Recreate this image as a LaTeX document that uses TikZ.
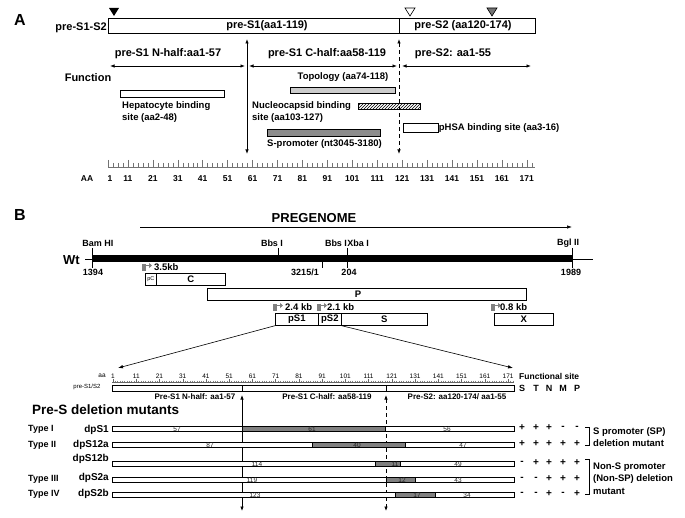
\documentclass[tikz,border=0pt]{standalone}
\usepackage{fontspec}
\setmainfont{Liberation Sans}
\usepackage{tikz}
\usetikzlibrary{arrows.meta, patterns}

\tikzset{
  promo/.pic={
    \fill[black!50] (0,0.5) rectangle (4,7.5);
    \draw[black!50, line width=1.6pt, -{Triangle[length=3pt, width=5pt]}] (2,1.5) -- (10,1.5);
  }
}

\begin{document}
\begin{tikzpicture}[x=1pt, y=-1pt,
  panel/.style={font=\bfseries\fontsize{16}{16}\selectfont, inner sep=0pt},
  head/.style={font=\bfseries\fontsize{11}{13}\selectfont, inner sep=0pt},
  note/.style={font=\bfseries\fontsize{9.5}{12}\selectfont, inner sep=0pt, align=left},
  scalelbl/.style={font=\bfseries\fontsize{8.5}{9}\selectfont, inner sep=0pt},
  site/.style={font=\bfseries\fontsize{9}{10}\selectfont, inner sep=0pt},
  seg/.style={draw, line width=0.7pt, inner sep=0pt, anchor=north west},
  gbox/.style={draw, line width=0.7pt, inner sep=0pt, anchor=north west, font=\bfseries\fontsize{9.5}{10}\selectfont},
  dbl/.style={{Latex[length=4.5pt, width=3.5pt]}-{Latex[length=4.5pt, width=3.5pt]}, line width=0.8pt},
  zarrow/.style={-{Latex[length=5pt, width=3.5pt]}, line width=0.6pt},
  small/.style={font=\bfseries\fontsize{8}{9}\selectfont, inner sep=0pt},
  num/.style={font=\fontsize{6.5}{6.5}\selectfont, inner sep=0pt, text=black!85},
  rowlbl/.style={font=\bfseries\fontsize{10}{11}\selectfont, inner sep=0pt, anchor=base east},
  typelbl/.style={font=\bfseries\fontsize{9}{10}\selectfont, inner sep=0pt, anchor=base west},
  sign/.style={font=\bfseries\fontsize{10}{10}\selectfont, inner sep=0pt},
  bnote/.style={font=\bfseries\fontsize{9.5}{12.5}\selectfont, inner sep=0pt, align=left, anchor=west}
]
\useasboundingbox (0,0) rectangle (685,518);

% --- Panel A: pre-S1-S2 bar ---
\node[panel] (pa) at (20,20) {A};
\node[seg, minimum width=291pt, minimum height=15pt] (s1) at (108,18) {};
\node[seg, minimum width=136pt, minimum height=15pt] (s2) at (399,18) {};
\node[head, anchor=east] (barlbl) at (107,28) {pre-S1-S2};
\node[head] (s1t) at (267,25.5) {pre-S1(aa1-119)};
\node[head] (s2t) at (463,25.5) {pre-S2 (aa120-174)};
\fill (109,8) -- (119,8) -- (114,16) -- cycle;
\draw[fill=white, line width=0.6pt] (405,8) -- (415,8) -- (410,16) -- cycle;
\draw[fill=black!55, line width=0.6pt] (487,8) -- (497,8) -- (492,16) -- cycle;

% --- Panel A: halves ---
\coordinate (v1t) at (247,39); \coordinate (v1b) at (247,154);
\coordinate (v2t) at (399,39); \coordinate (v2b) at (399,154);
\draw[dbl] (v1t) -- (v1b);
\draw[dbl, dash pattern=on 4pt off 3pt] (v2t) -- (v2b);
\node[head] (nh) at (168,54) {pre-S1 N-half:aa1-57};
\node[head] (ch) at (327,54) {pre-S1 C-half:aa58-119};
\node[head] (s2h) at (453,54) {pre-S2: aa1-55};
\coordinate (nh0) at (110,66); \coordinate (nh1) at (245,66);
\coordinate (ch0) at (249,66); \coordinate (ch1) at (397,66);
\coordinate (sh0) at (402,66); \coordinate (sh1) at (531,66);
\draw[dbl] (nh0) -- (nh1);
\draw[dbl] (ch0) -- (ch1);
\draw[dbl] (sh0) -- (sh1);

% --- Panel A: functions ---
\node[head] (fn) at (88,78) {Function};
\node[note] (topot) at (343,77) {Topology (aa74-118)};
\node[seg, fill=black!20, minimum width=105pt, minimum height=6pt] (topo) at (290,87) {};
\node[seg, fill=white, minimum width=104pt, minimum height=7pt] (hep) at (120,90) {};
\node[note, anchor=north west] (hept) at (122,101) {Hepatocyte binding\\site (aa2-48)};
\node[note, anchor=north west] (nct) at (252,101) {Nucleocapsid binding\\site (aa103-127)};
\node[seg, pattern=north east lines, minimum width=62pt, minimum height=6pt] (nc) at (358,103) {};
\node[seg, fill=white, minimum width=35pt, minimum height=9pt] (hsa) at (403,123) {};
\node[note, anchor=west] (hsat) at (hsa.east) {pHSA binding site (aa3-16)};
\node[seg, fill=black!45, minimum width=113pt, minimum height=7pt] (sp) at (267,129) {};
\node[note, anchor=north west] (spt) at (267,139) {S-promoter (nt3045-3180)};

% --- Panel A: ruler ---
\draw[line width=0.6pt, black!55] (108,167) -- (535,167);
\draw[line width=0.5pt, black!55] (108,160) -- (108,167);
\foreach \j in {1,...,86} {
  \pgfmathsetmacro{\tx}{103+4.986*\j}
  \pgfmathtruncatemacro{\m}{mod(\j,5)}
  \ifnum\m=0
    \draw[line width=0.5pt, black!55] (\tx,160) -- (\tx,167);
  \else
    \draw[line width=0.5pt, black!55] (\tx,163) -- (\tx,167);
  \fi
}
\node[scalelbl] (aalbl) at (87,179) {AA};
\node[scalelbl] (aa0) at (110,179) {1};
\foreach \k in {1,...,17} {
  \pgfmathtruncatemacro{\v}{10*\k+1}
  \node[scalelbl] (aa\k) at (103+24.93*\k,179) {\v};
}

% --- Panel B: genome ---
\node[panel] (pb) at (20,215) {B};
\node[font=\bfseries\fontsize{13}{14}\selectfont, inner sep=0pt] (pg) at (314,218) {PREGENOME};
\coordinate (pg0) at (140,227); \coordinate (pg1) at (572,227);
\draw[zarrow, line width=0.7pt] (pg0) -- (pg1);
\node[font=\bfseries\fontsize{13}{14}\selectfont, inner sep=0pt, anchor=east] (wt) at (80,260) {Wt};
\coordinate (w0) at (85,259); \coordinate (w1) at (593,259);
\draw[line width=0.6pt] (w0) -- (w1);
\node[fill=black, minimum width=480pt, minimum height=7pt, inner sep=0pt, anchor=north west] (gen) at (92,255) {};
\foreach \x/\a/\b in {92/248/268, 278/248/256, 322/259/268, 347/248/268, 572/248/268}
  \draw[line width=0.6pt] (\x,\a) -- (\x,\b);
\node[site] (bam) at (98,243) {Bam HI};
\node[site] (bbs1) at (272,243) {Bbs I};
\node[site] (bbs2) at (336,243) {Bbs I};
\node[site] (xba) at (358,243) {Xba I};
\node[site] (bgl) at (568,243) {Bgl II};
\node[site] (n1394) at (93,272) {1394};
\node[site] (n3215) at (305,272) {3215/1};
\node[site] (n204) at (349,272) {204};
\node[site] (n1989) at (571,272) {1989};

% --- Panel B: transcripts ---
\pic at (142,264) {promo};
\node[site, anchor=west, font=\bfseries\fontsize{9.5}{10}\selectfont] (t35) at (154,267) {3.5kb};
\node[gbox, minimum width=11pt, minimum height=12pt, font=\fontsize{5.5}{6}\selectfont] (pc) at (145,273) {pC};
\node[gbox, minimum width=69pt, minimum height=12pt] (cg) at (156,273) {C};
\node[gbox, minimum width=319pt, minimum height=12pt] (pp) at (207,288) {};
\node[site, font=\bfseries\fontsize{9.5}{10}\selectfont] (pt) at (358,294) {P};
\pic at (273,304) {promo};
\node[site, anchor=west, font=\bfseries\fontsize{9.5}{10}\selectfont] (t24) at (285,307.5) {2.4 kb};
\pic at (317,304) {promo};
\node[site, anchor=west, font=\bfseries\fontsize{9.5}{10}\selectfont] (t21) at (327,307.5) {2.1 kb};
\pic at (491,304) {promo};
\node[site, anchor=west, font=\bfseries\fontsize{9.5}{10}\selectfont] (t08) at (500,307.5) {0.8 kb};
\node[gbox, minimum width=43pt, minimum height=12pt] (ps1) at (275,313) {pS1};
\node[gbox, minimum width=23pt, minimum height=12pt] (ps2) at (318,313) {pS2};
\node[gbox, minimum width=86pt, minimum height=12pt] (sg) at (341,313) {S};
\node[gbox, minimum width=59pt, minimum height=12pt] (xg) at (494,313) {X};
\coordinate (zl) at (118,368); \coordinate (zr) at (513,368);
\draw[zarrow] (ps1.south west) -- (zl);
\draw[zarrow] (ps2.south east) -- (zr);

% --- Panel B: scale ---
\draw[line width=0.5pt, black!60] (112,382) -- (514,382);
\foreach \a in {1,...,173} {
  \pgfmathsetmacro{\tx}{113+2.324*(\a-1)}
  \pgfmathtruncatemacro{\m}{mod(\a-1,10)}
  \ifnum\m=0
    \draw[line width=0.4pt, black!60] (\tx,379) -- (\tx,382);
  \else
    \draw[line width=0.3pt, black!50] (\tx,380.5) -- (\tx,382);
  \fi
}
\node[font=\fontsize{6.5}{7}\selectfont, inner sep=0pt] (aab) at (102,376) {aa};
\foreach \k in {0,...,17} {
  \pgfmathtruncatemacro{\v}{10*\k+1}
  \node[font=\fontsize{6.5}{7}\selectfont, inner sep=0pt] (bb\k) at (113+23.24*\k,376) {\v};
}
\node[font=\bfseries\fontsize{8.5}{9}\selectfont, inner sep=0pt, anchor=west] (fs) at (519,376) {Functional site};
\node[seg, minimum width=402pt, minimum height=6pt] (pre) at (112,385) {};
\draw[line width=0.6pt] (242,385) -- (242,391);
\draw[line width=0.6pt] (386,385) -- (386,391);
\node[font=\fontsize{6}{6}\selectfont, inner sep=0pt] (prelbl) at (87,387) {pre-S1/S2};
\foreach \x/\s [count=\j] in {522/S,536/T,549/N,563/M,577/P}
  \node[sign, font=\bfseries\fontsize{9}{10}\selectfont] (c\j) at (\x,388) {\s};
\node[small] (bnh) at (195,397) {Pre-S1 N-half: aa1-57};
\node[small] (bch) at (327,397) {Pre-S1 C-half: aa58-119};
\node[small] (bsh) at (457,397) {Pre-S2: aa120-174/ aa1-55};
\coordinate (u1t) at (242,395); \coordinate (u1b) at (242,511);
\coordinate (u2t) at (386,395); \coordinate (u2b) at (386,511);
\draw[dbl, line width=0.7pt] (u1t) -- (u1b);
\draw[dbl, line width=0.7pt, dash pattern=on 4pt off 3pt] (u2t) -- (u2b);

% --- Panel B: deletion mutants ---
\node[font=\bfseries\fontsize{13.5}{14}\selectfont, inner sep=0pt, anchor=west] (mut) at (32,410) {Pre-S deletion mutants};
\foreach \y/\ly/\n/\a/\b [count=\i] in {428/432/dpS1/242/385, 444/447/dpS12a/312/405, 463/461.5/dpS12b/375/400, 479/480/dpS2a/386/415, 494/496/dpS2b/395/435} {
  \node[seg, fill=white, minimum width=402pt, minimum height=5pt] (m\i) at (112,\y-2.5) {};
  \pgfmathsetmacro{\w}{\b-\a}
  \node[seg, fill=black!50, minimum width=\w pt, minimum height=5pt] (g\i) at (\a,\y-2.5) {};
  \node[rowlbl] (r\i) at (109,\ly) {\n};
}
\node[typelbl] (ty1) at (28,431.5) {Type I};
\node[typelbl] (ty2) at (28,447.5) {Type II};
\node[typelbl] (ty3) at (28,481.5) {Type III};
\node[typelbl] (ty4) at (28,496.5) {Type IV};
\foreach \x/\y/\v [count=\i] in {177/428/57, 312/428/61, 447/428/56, 210/444/87, 357/444/40, 463/444/47,
    257/463/114, 395/463/11, 458/463/49, 252/479/119, 402/479/12, 458/479/43, 255/494/123, 417/494/17, 467/494/34}
  \node[num] (v\i) at (\x,\y+1) {\v};

% --- Functional sites ---
\foreach \x/\s [count=\j] in {522/+,536/+,549/+,563/-,577/-} \node[sign] (a\j) at (\x,428) {\s};
\foreach \x/\s [count=\j] in {522/+,536/+,549/+,563/+,577/+} \node[sign] (b\j) at (\x,444) {\s};
\foreach \x/\s [count=\j] in {522/-,536/+,549/+,563/+,577/+} \node[sign] (d\j) at (\x,463) {\s};
\foreach \x/\s [count=\j] in {522/-,536/-,549/+,563/+,577/+} \node[sign] (e\j) at (\x,479) {\s};
\foreach \x/\s [count=\j] in {522/-,536/-,549/+,563/-,577/+} \node[sign] (f\j) at (\x,494) {\s};

% --- Brackets ---
\draw[line width=0.7pt] (585,427) -- (589,427) -- (589,445) -- (585,445);
\node[bnote] (spm) at (593,437) {S promoter (SP)\\deletion mutant};
\draw[line width=0.7pt] (585,459) -- (589,459) -- (589,494) -- (585,494);
\node[bnote] (nspm) at (593,478.5) {Non-S promoter\\(Non-SP) deletion\\mutant};

\end{tikzpicture}
\end{document}
